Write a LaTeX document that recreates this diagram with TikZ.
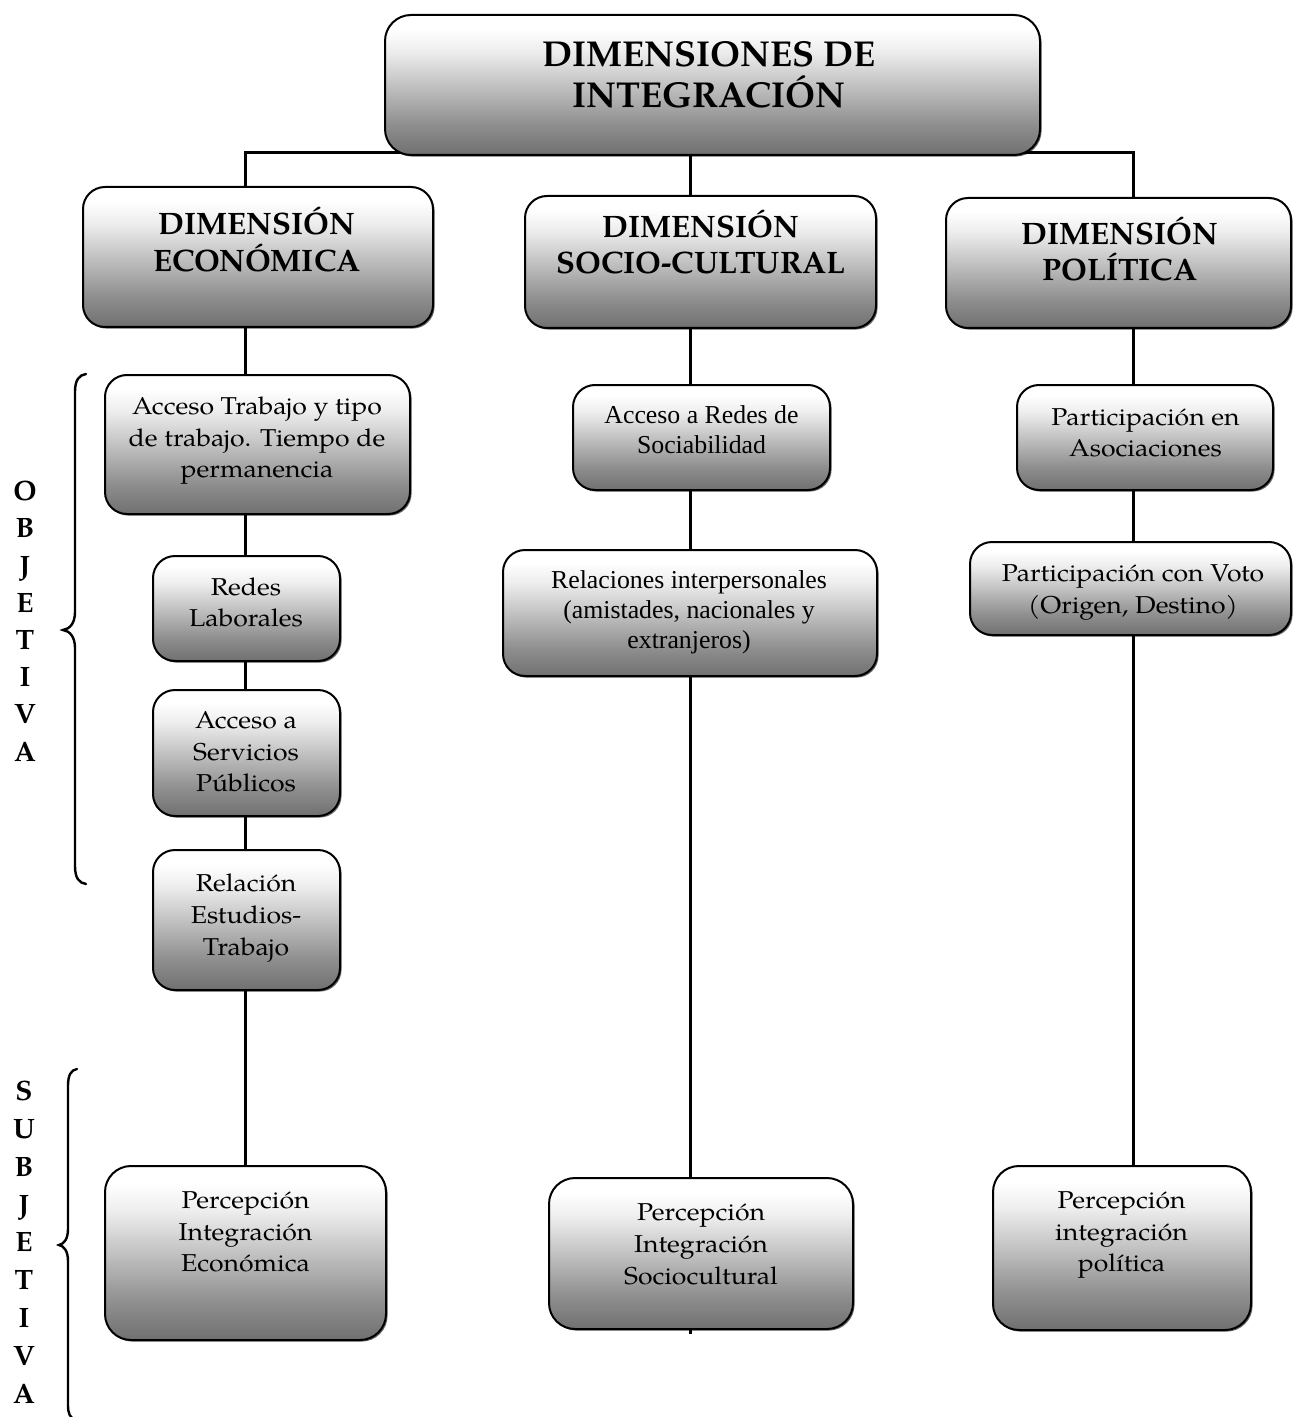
\documentclass[tikz,border=0pt]{standalone}
\usepackage{fontspec}
\setmainfont{TeX Gyre Pagella}
\newfontfamily\bodyf[FakeStretch=1.09]{TeX Gyre Pagella}
\newfontfamily\tnr{Liberation Serif}
\usetikzlibrary{shadows,backgrounds}
\pgfdeclareverticalshading{boxshade}{100bp}{color(0bp)=(black!56); color(25bp)=(black!56); color(36bp)=(black!44); color(50bp)=(black!24); color(62bp)=(black!7); color(70bp)=(white); color(100bp)=(white)}
\begin{document}
\begin{tikzpicture}[x=0.5pt,y=-0.5pt,
  gbox/.style={draw=black, line width=1pt, rounded corners=11pt, shading=boxshade, inner sep=0pt,
    drop shadow={shadow xshift=0.8pt, shadow yshift=-0.8pt, opacity=0.6, fill=black}},
  bigr/.style={rounded corners=13pt},
  txt/.style={align=center, inner sep=0pt, anchor=base, font=\bodyf\fontsize{12.2}{15.8}\selectfont},
  ttxt/.style={align=center, inner sep=0pt, anchor=base, font=\tnr\fontsize{12.9}{15}\selectfont},
  dtxt/.style={align=center, inner sep=0pt, anchor=base, font=\fontsize{15.5}{18.4}\bfseries\selectfont},
  ltxt/.style={align=center, inner sep=0pt, anchor=base, font=\fontsize{14}{18.6}\bfseries\selectfont},
  conn/.style={line width=1.5pt},
  brc/.style={line width=1.2pt, line cap=round}]
\useasboundingbox (0,0) rectangle (1292,1417);

% boxes
\node[gbox,bigr, minimum width=327.5pt, minimum height=70pt] (top) at (712.5,85) {};
\node[gbox, minimum width=175pt, minimum height=70pt] (econ) at (258,257) {};
\node[gbox, minimum width=175.5pt, minimum height=66pt] (socio) at (700.5,262) {};
\node[gbox, minimum width=172.5pt, minimum height=65pt] (pol) at (1118.5,263) {};

\node[gbox, minimum width=152.5pt, minimum height=69.5pt] (at) at (257.5,444.5) {};
\node[gbox, minimum width=93.5pt, minimum height=52.5pt] (redes) at (246.5,608.5) {};
\node[gbox, minimum width=93.5pt, minimum height=63pt] (serv) at (246.5,753) {};
\node[gbox, minimum width=93.5pt, minimum height=70pt] (rel) at (246.5,920) {};
\node[gbox,bigr, minimum width=140.5pt, minimum height=87pt] (pe) at (245.5,1253) {};

\node[gbox, minimum width=128.5pt, minimum height=52.5pt] (ar) at (701.5,437.5) {};
\node[gbox, minimum width=187pt, minimum height=63pt] (ri) at (690,613) {};
\node[gbox,bigr, minimum width=152pt, minimum height=75.5pt] (ps) at (701,1253.5) {};

\node[gbox, minimum width=128pt, minimum height=52.5pt] (pa) at (1145,437.5) {};
\node[gbox, minimum width=160.5pt, minimum height=46.5pt] (pv) at (1130.5,588.5) {};
\node[gbox,bigr, minimum width=129pt, minimum height=82pt] (pp) at (1122,1248) {};

% column coordinates
\coordinate (c1) at (245,153);
\coordinate (c2) at (690,153);
\coordinate (c3) at (1133,153);
\coordinate (stub) at (690,1334);

% connectors
\begin{pgfonlayer}{background}
\draw[conn] (c1 |- econ.north) -- (c1) -- (c3) -- (c3 |- pol.north);
\draw[conn] (c2) -- (c2 |- socio.north);
\draw[conn] (c1 |- econ.south) -- (c1 |- pe.north);
\draw[conn] (c2 |- socio.south) -- (stub);
\draw[conn] (c3 |- pol.south) -- (c3 |- pp.north);
\end{pgfonlayer}

% texts (anchored at the baseline of the last line)
\node[align=center, inner sep=0pt, anchor=base, font=\fontsize{18}{20.5}\bfseries\selectfont] (topT) at (709,108) {DIMENSIONES DE\\INTEGRACIÓN};
\node[dtxt] (econT) at (257,271.7) {DIMENSIÓN\\ECONÓMICA};
\node[dtxt] (socioT) at (701,274) {DIMENSIÓN\\SOCIO-CULTURAL};
\node[dtxt] (polT) at (1120,281) {DIMENSIÓN\\POLÍTICA};

\node[txt] (atT) at (257,477.8) {Acceso Trabajo y tipo\\de trabajo. Tiempo de\\permanencia};
\node[txt] (redesT) at (246,626.8) {Redes\\Laborales};
\node[txt] (servT) at (246,791.7) {Acceso a\\Servicios\\Públicos};
\node[txt] (relT) at (246,955) {Relación\\Estudios-\\Trabajo};
\node[txt] (peT) at (245.5,1271.7) {Percepción\\Integración\\Económica};

\node[ttxt] (arT) at (701.5,453) {Acceso a Redes de\\Sociabilidad};
\node[ttxt] (riT) at (689,648) {Relaciones interpersonales\\(amistades, nacionales y\\extranjeros)};
\node[txt] (psT) at (701,1284) {Percepción\\Integración\\Sociocultural};

\node[txt] (paT) at (1145.5,456.7) {Participación en\\Asociaciones};
\node[txt] (pvT) at (1133,613.3) {Participación con Voto\\(Origen, Destino)};
\node[txt] (ppT) at (1121.5,1271.7) {Percepción\\integración\\política};

% side labels
\node[ltxt] (objL) at (25,761) {O\\B\\J\\E\\T\\I\\V\\A};
\node[ltxt, font=\fontsize{14}{18.9}\bfseries\selectfont] (subL) at (24,1403) {S\\U\\B\\J\\E\\T\\I\\V\\A};

% braces
\draw[brc] (86,374) .. controls (79,375) and (75,380) .. (75,392) -- (75,612)
  .. controls (75,623) and (70,629) .. (63,630)
  .. controls (70,631) and (75,637) .. (75,648) -- (75,866)
  .. controls (75,878) and (79,883) .. (86,884);
\draw[brc] (77,1069) .. controls (71,1070) and (68,1075) .. (68,1086) -- (68,1229)
  .. controls (68,1239) and (64,1244) .. (59,1245)
  .. controls (64,1246) and (68,1251) .. (68,1261) -- (68,1405)
  .. controls (68,1414) and (70,1418) .. (76,1420);
\end{tikzpicture}
\end{document}
